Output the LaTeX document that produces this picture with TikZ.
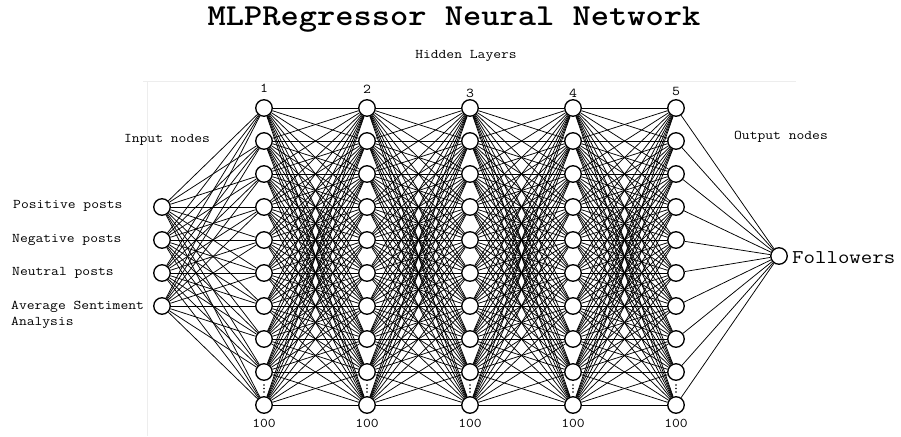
\documentclass[tikz,border=0pt]{standalone}
\usepackage{fontspec}
\pgfdeclarelayer{bg}
\pgfsetlayers{bg,main}
\newcommand\cw[1]{\scalebox{1.14}[1]{#1}}
\begin{document}
\begin{tikzpicture}[x=1pt,y=-1pt,
  neuron/.style={circle,draw,line width=1.35pt,minimum size=16.5pt,inner sep=0pt,fill=white},
  conn/.style={line width=0.75pt},
  lbl/.style={font=\ttfamily\fontsize{13.3}{16}\selectfont,inner sep=0pt},
  numlbl/.style={font=\ttfamily\fontsize{13.5}{15}\selectfont,inner sep=0pt},
  frame/.style={draw=black!7,line width=0.6pt},
  dot/.style={circle,fill,inner sep=0pt,minimum size=1.9pt}]
\useasboundingbox (0,0) rectangle (901,436);
% faint frame of the inner picture
\draw[frame] (143,81) -- (796,81);
\draw[frame] (147,81) -- (147,436);
% title texts
\node[font=\ttfamily\bfseries\fontsize{30.5}{34}\selectfont,inner sep=0pt] (title) at (454,20) {\cw{MLPRegressor Neural Network}};
\node[lbl] (hidden) at (466,56) {\cw{Hidden Layers}};
\node[lbl] (inlbl) at (167,140) {\cw{Input nodes}};
\node[lbl] (outlbl) at (781,137) {\cw{Output nodes}};
% input nodes
\foreach \y [count=\i] in {207,240,273,306} {
  \node[neuron] (in\i) at (162,\y) {};
}
\node[lbl,anchor=west] (t1) at (13,206) {\cw{Positive posts}};
\node[lbl,anchor=west] (t2) at (12,240) {\cw{Negative posts}};
\node[lbl,anchor=west] (t3) at (12,273) {\cw{Neutral posts}};
\node[lbl,anchor=west,align=left] (t4) at (11,315) {\cw{Average Sentiment}\\\cw{Analysis}};
% hidden layers
\foreach \x [count=\l] in {264,367,470,573,676} {
  \foreach \i in {1,...,10} {
    \node[neuron] (h\l-\i) at (\x,{75+33*\i}) {};
  }
  \node[dot] (da\l) at (\x,385) {};
  \node[dot] (db\l) at (\x,388.5) {};
  \node[dot] (dc\l) at (\x,392) {};
  \node[lbl] (bot\l) at (\x,423) {\cw{100}};
}
\node[numlbl] (n1) at (264,88) {\cw{1}};
\node[numlbl] (n2) at (367,89) {\cw{2}};
\node[numlbl] (n3) at (470,93) {\cw{3}};
\node[numlbl] (n4) at (573,93) {\cw{4}};
\node[numlbl] (n5) at (676,91) {\cw{5}};
% output node
\node[neuron] (out) at (779,256) {};
\node[font=\ttfamily\fontsize{19.5}{22}\selectfont,inner sep=0pt,anchor=west] (follow) at (792,258) {\cw{Followers}};
% connections
\begin{pgfonlayer}{bg}
\foreach \i in {1,...,4} {
  \foreach \j in {1,...,10} {
    \draw[conn] (in\i) -- (h1-\j);
  }
}
\foreach \l [evaluate=\l as \m using int(\l+1)] in {1,...,4} {
  \foreach \i in {1,...,10} {
    \foreach \j in {1,...,10} {
      \draw[conn] (h\l-\i) -- (h\m-\j);
    }
  }
}
\foreach \i in {1,...,10} {
  \draw[conn] (h5-\i) -- (out);
}
\end{pgfonlayer}
\end{tikzpicture}
\end{document}
